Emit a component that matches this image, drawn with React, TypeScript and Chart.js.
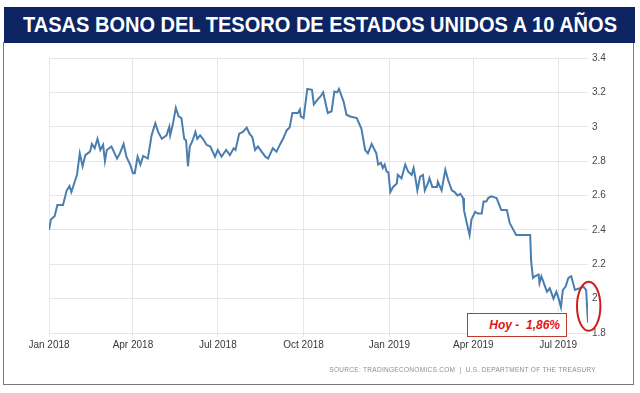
import React, { useEffect, useRef } from "react";
import { Chart, registerables } from "chart.js";

Chart.register(...registerables);

// days since 2018-01-01
const days = [
  0, 2, 6, 9, 15, 19, 22, 24, 30, 33, 36, 39, 44, 46, 49, 52, 55, 58, 60, 62,
  67, 73, 76, 80, 83, 87, 90, 92, 95, 98, 101, 106, 110, 114, 117, 121, 126, 129, 130, 133,
  136, 139, 142, 145, 147, 149, 151, 154, 157, 159, 162, 165, 169, 173, 178, 181, 185, 190, 194, 198,
  200, 204, 208, 212, 215, 218, 221, 224, 228, 232, 235, 240, 244, 248, 251, 255, 258, 261, 267, 269,
  270, 273, 277, 282, 284, 289, 291, 294, 297, 299, 303, 306, 309, 311, 316, 319, 323, 330, 335, 339,
  342, 346, 351, 353, 356, 358, 360, 362, 364, 366, 369, 373, 374, 378, 382, 385, 389, 391, 393, 395,
  398, 401, 403, 407, 408, 411, 416, 417, 421, 425, 428, 432, 435, 438, 441, 444, 445, 448, 451, 453,
  457, 460, 464, 466, 469, 471, 474, 480, 485, 491, 494, 498, 501, 516, 517, 519, 521, 525, 526, 528,
  532, 534, 537, 541, 544, 546, 549, 551, 554, 557, 560, 564, 569, 573, 576, 578,
];

const yields = [
  2.40, 2.46, 2.48, 2.545, 2.545, 2.63, 2.655, 2.62, 2.72, 2.845, 2.77, 2.835, 2.855, 2.90, 2.875, 2.93, 2.865, 2.895, 2.80, 2.865,
  2.885, 2.815, 2.845, 2.90, 2.826, 2.78, 2.73, 2.73, 2.826, 2.78, 2.83, 2.815, 2.95, 3.02, 2.97, 2.93, 2.95, 3.00, 2.95, 3.02,
  3.11, 3.06, 3.05, 2.93, 2.92, 2.77, 2.885, 2.92, 2.97, 2.93, 2.95, 2.93, 2.895, 2.885, 2.826, 2.865, 2.826, 2.865, 2.835, 2.875,
  2.865, 2.96, 2.97, 2.995, 2.96, 2.94, 2.865, 2.885, 2.855, 2.826, 2.815, 2.875, 2.855, 2.90, 2.93, 2.98, 2.995, 3.08, 3.08, 3.10,
  3.06, 3.05, 3.22, 3.215, 3.13, 3.165, 3.175, 3.20, 3.127, 3.08, 3.09, 3.205, 3.20, 3.22, 3.145, 3.07, 3.06, 3.05, 2.99, 2.865,
  2.845, 2.90, 2.845, 2.78, 2.79, 2.76, 2.78, 2.74, 2.735, 2.62, 2.65, 2.67, 2.72, 2.70, 2.78, 2.74, 2.72, 2.76, 2.70, 2.63,
  2.71, 2.72, 2.63, 2.68, 2.70, 2.65, 2.65, 2.68, 2.63, 2.75, 2.69, 2.63, 2.62, 2.60, 2.61, 2.585, 2.515, 2.44, 2.37, 2.46,
  2.505, 2.495, 2.495, 2.565, 2.565, 2.585, 2.595, 2.585, 2.515, 2.515, 2.44, 2.40, 2.37, 2.37, 2.22, 2.12, 2.13, 2.14, 2.09, 2.13,
  2.07, 2.04, 2.06, 2.00, 2.04, 2.01, 1.95, 2.05, 2.07, 2.12, 2.13, 2.05, 2.06, 2.07, 2.05, 1.86,
];

const tickDays = [0, 90, 181, 273, 365, 455, 546];
const tickLabels = ["Jan 2018", "Apr 2018", "Jul 2018", "Oct 2018", "Jan 2019", "Apr 2019", "Jul 2019"];

const titleText = "TASAS BONO DEL TESORO DE ESTADOS UNIDOS A 10 AÑOS";
const calloutText = "Hoy -  1,86%";
const sourceText = "SOURCE: TRADINGECONOMICS.COM  |  U.S. DEPARTMENT OF THE TREASURY";

const ellipsePlugin = {
  id: "lastEllipse",
  afterDatasetsDraw(chart: any) {
    const { ctx, scales } = chart;
    const xs = scales.x;
    const ys = scales.y;
    const n = days.length - 1;
    const cx = xs.getPixelForValue(days[n]) + 0.7;
    const cy = (ys.getPixelForValue(yields[n]) + ys.getPixelForValue(yields[n - 1])) / 2;
    ctx.save();
    ctx.beginPath();
    ctx.ellipse(cx, cy, 11.7, 24.5, 0, 0, Math.PI * 2);
    ctx.strokeStyle = "#d01c1c";
    ctx.lineWidth = 2;
    ctx.stroke();
    ctx.restore();
  },
};

export default function App() {
  const canvasRef = useRef<HTMLCanvasElement | null>(null);

  useEffect(() => {
    const canvas = canvasRef.current;
    if (!canvas) return;
    const chart = new Chart(canvas, {
      type: "line",
      data: {
        datasets: [
          {
            data: days.map((d, i) => ({ x: d, y: yields[i] })),
            borderColor: "#4a7db0",
            borderWidth: 2,
            pointRadius: 0,
            tension: 0,
            fill: false,
          },
        ],
      },
      options: {
        animation: false,
        responsive: false,
        events: [],
        layout: { padding: { left: 49, top: 58, right: 12, bottom: 40 } },
        plugins: { legend: { display: false }, tooltip: { enabled: false }, title: { display: false } },
        scales: {
          x: {
            type: "linear",
            min: 0,
            max: 578,
            afterBuildTicks: (s: any) => {
              s.ticks = tickDays.map((v) => ({ value: v }));
            },
            afterFit: (s: any) => {
              s.height = 20;
            },
            grid: { color: "#e6e6e6", lineWidth: 1, drawTicks: true, tickLength: 4, tickColor: "#e6e6e6" },
            border: { display: false },
            ticks: {
              autoSkip: false,
              maxRotation: 0,
              padding: 2,
              color: "#383838",
              font: { family: "Liberation Sans", size: 10 },
              callback: (_v: any, i: number) => tickLabels[i],
            },
          },
          y: {
            position: "right",
            min: 1.8,
            max: 3.4,
            afterFit: (s: any) => {
              s.width = 40;
            },
            grid: { color: "#e6e6e6", lineWidth: 1, drawTicks: false },
            border: { display: false },
            ticks: {
              stepSize: 0.2,
              padding: 4,
              color: "#484848",
              font: { family: "Liberation Sans", size: 10 },
              callback: (v: any) => String(Number(Number(v).toFixed(1))),
            },
          },
        },
      },
      plugins: [ellipsePlugin],
    });
    return () => chart.destroy();
  }, []);

  return (
    <div style={{ position: "absolute", left: 0, top: 0, width: 640, height: 393, background: "#ffffff", overflow: "hidden" }}>
      <div
        style={{
          position: "absolute",
          left: 3,
          top: 42,
          width: 629,
          height: 341,
          border: "1.5px solid #7a7a7a",
          boxSizing: "content-box",
        }}
      />
      <div
        style={{
          position: "absolute",
          left: 4,
          top: 7,
          width: 631,
          height: 36,
          background: "#0c2461",
        }}
      >
        <div
          style={{
            position: "absolute",
            left: 19,
            top: 0,
            height: 36,
            lineHeight: "36px",
            whiteSpace: "nowrap",
            color: "#ffffff",
            fontFamily: "'Liberation Sans', Arial, sans-serif",
            fontWeight: 700,
            fontSize: 22,
            transform: "scaleX(0.91)",
            transformOrigin: "left center",
          }}
        >
          {titleText}
        </div>
      </div>
      <canvas ref={canvasRef} width={640} height={393} style={{ position: "absolute", left: 0, top: 0, width: 640, height: 393 }} />
      <div
        style={{
          position: "absolute",
          left: 467,
          top: 313,
          width: 98,
          height: 22,
          border: "1px solid #c0392b",
          background: "#ffffff",
          boxSizing: "content-box",
          textAlign: "right",
        }}
      >
        <span
          style={{
            position: "absolute",
            right: 6,
            top: 0,
            lineHeight: "22px",
            whiteSpace: "pre",
            color: "#e01515",
            fontFamily: "'Liberation Sans', Arial, sans-serif",
            fontWeight: 700,
            fontStyle: "italic",
            fontSize: 12,
          }}
        >
          {calloutText}
        </span>
      </div>
      <div
        style={{
          position: "absolute",
          right: 44,
          top: 366,
          whiteSpace: "pre",
          color: "#8e8e8e",
          fontFamily: "'Liberation Sans', Arial, sans-serif",
          fontSize: 6.5,
          letterSpacing: 0.3,
          lineHeight: "8px",
        }}
      >
        {sourceText}
      </div>
    </div>
  );
}
